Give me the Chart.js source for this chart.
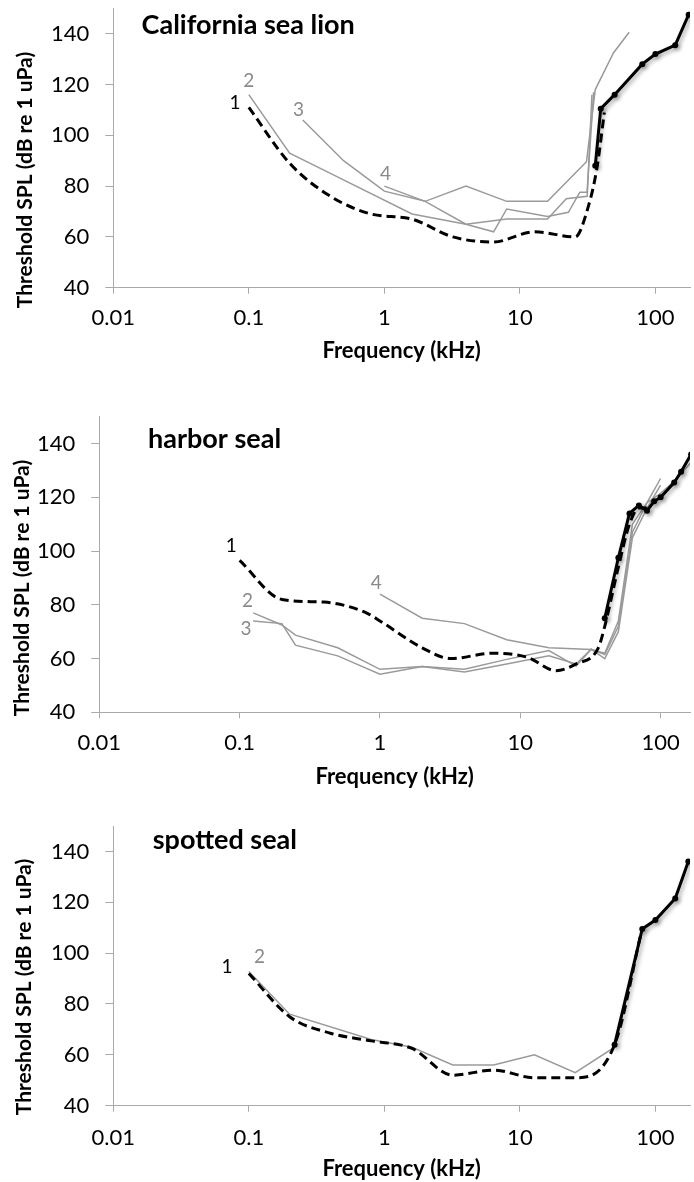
<!DOCTYPE html>
<html><head><meta charset="utf-8">
<script src="https://cdn.jsdelivr.net/npm/chart.js@4.4.1/dist/chart.umd.min.js"></script>
<style>
html,body{margin:0;padding:0;background:#fff;overflow:hidden;}
#wrap{position:relative;width:694px;height:1182px;}
.panel{position:absolute;left:0;width:694px;}
canvas{display:block;}
</style></head><body>
<div id="wrap">
<div class="panel" style="top:0px;height:370px"><canvas id="c1" width="694" height="370"></canvas></div>
<div class="panel" style="top:390px;height:400px"><canvas id="c2" width="694" height="400"></canvas></div>
<div class="panel" style="top:790px;height:392px"><canvas id="c3" width="694" height="392"></canvas></div>
</div>
<script>
// ---- axis labels ----
const xTickValues = [0.01, 0.1, 1, 10, 100];
const xTickLabels = ['0.01', '0.1', '1', '10', '100'];
const yTickValues = [40, 60, 80, 100, 120, 140];
const xAxisTitle = 'Frequency (kHz)';
const yAxisTitle = 'Threshold SPL (dB re 1 uPa)';
const panelTitles = ['California sea lion', 'harbor seal', 'spotted seal'];

// ---- California sea lion ----
const lionFreq1 = [0.1, 0.2, 0.4, 0.8, 1.6, 3.2, 6.4, 12.8, 25.6, 32, 37, 42];
const lionDb1   = [111, 89, 76, 69, 67, 60, 58, 62, 60, 72, 87, 109];
const lionFreqHigh = [36, 39.5, 50, 80, 100, 140, 176];
const lionDbHigh   = [88, 110.5, 116, 128, 132, 135.5, 147.5];
const lionFreq2 = [0.1, 0.2, 0.4, 1.6, 4, 8, 16, 22, 31.4, 34];
const lionDb2   = [116, 93, 85, 69, 65, 67, 67, 75, 76, 116];
const lionFreq3 = [0.25, 0.5, 1, 2, 4, 8, 16, 31, 36, 49, 64];
const lionDb3   = [106, 90, 78, 74, 80, 74, 74, 89.6, 118, 132.4, 140.6];
const lionFreq4 = [1, 2, 4, 6.4, 8, 16, 22.8, 27.7, 31.3, 35];
const lionDb4   = [80, 74, 65, 62, 71, 68, 69.7, 77.6, 77.6, 117];

// ---- harbor seal ----
const harborFreq1 = [0.1, 0.2, 0.4, 0.8, 1, 2, 3.2, 6.4, 11.2, 18, 25, 36, 40, 50, 60, 70, 80];
const harborDb1   = [96.5, 82, 81, 77, 74, 64, 60, 62, 60.5, 55.5, 58, 64, 72, 94, 110, 116, 116];
const harborFreqHigh = [40, 50, 60, 70, 80, 90, 100, 125, 140, 165];
const harborDbHigh   = [75, 97.5, 114, 117, 115, 118.5, 120, 125.5, 129.5, 136];
const harborFreq2 = [0.125, 0.2, 0.25, 0.5, 1, 2, 4, 8, 16, 25, 32, 40, 50, 63, 80, 100];
const harborDb2   = [77, 72.5, 68.7, 64, 56, 57, 56, 59.7, 63, 57.2, 63.5, 61.5, 72, 107, 118, 127];
const harborFreq3 = [0.125, 0.2, 0.25, 0.5, 1, 2, 4, 8, 16, 25, 32, 40, 50, 63, 80, 100];
const harborDb3   = [74, 73, 65, 61, 54.2, 57, 55, 58, 61, 58, 63.5, 60, 70, 105, 116, 124.5];
const harborFreq4 = [1, 2, 4, 8, 16, 32, 40, 50, 63, 80, 100, 125, 165];
const harborDb4   = [84, 75, 73, 67, 64, 63.4, 62, 74, 110, 118, 121.5, 126, 133];

// ---- spotted seal ----
const spottedFreq1 = [0.1, 0.2, 0.4, 0.8, 1.6, 3.2, 6.4, 12.8, 25.6, 50, 80];
const spottedDb1   = [92, 75, 68.5, 65.5, 62.5, 52, 54, 51, 51, 64, 110];
const spottedFreqHigh = [50, 80, 100, 140, 175];
const spottedDbHigh   = [64, 109.5, 113, 121.5, 136];
const spottedFreq2 = [0.1, 0.2, 0.8, 1.6, 3.2, 6.4, 12.8, 25.6, 50, 80];
const spottedDb2   = [92.8, 76, 66, 63, 56, 56, 60, 53, 63, 109];

// ---- curve number labels (text, freq, dB) ----
const lionLabelText = ['1', '2', '3', '4'];
const lionLabelFreq = [0.079, 0.1, 0.233, 1.02];
const lionLabelDb   = [112.6, 121.3, 110, 84.9];
const harborLabelText = ['1', '2', '3', '4'];
const harborLabelFreq = [0.087, 0.114, 0.111, 0.94];
const harborLabelDb   = [101.8, 81.3, 70.9, 88.1];
const spottedLabelText = ['1', '2'];
const spottedLabelFreq = [0.069, 0.12];
const spottedLabelDb   = [94.7, 98.6];

// ---- styling ----
const FONT = 'Lato, "Open Sans", sans-serif';
const AXIS = '#aaaaaa';
const GRAY = '#9a9a9a';
const LABEL_GRAY = '#8a8a8a';

const pts = (fs, ds) => fs.map((f, i) => ({x: f, y: ds[i]}));

function dashed(fs, ds) {
  return {data: pts(fs, ds), borderColor: '#000', borderWidth: 3, borderDash: [9, 5],
    pointRadius: 0, cubicInterpolationMode: 'monotone', fill: false};
}
function solid(fs, ds) {
  return {data: pts(fs, ds), borderColor: '#000', borderWidth: 3, pointRadius: 3,
    pointBackgroundColor: '#000', pointBorderWidth: 0, tension: 0, fill: false, shadow: true};
}
function gray(fs, ds) {
  return {data: pts(fs, ds), borderColor: GRAY, borderWidth: 1.5, pointRadius: 0, tension: 0, fill: false};
}

function textPlugin(spec) {
  return {
    id: 'panelText',
    beforeDatasetDraw(chart, args) {
      const ds = chart.data.datasets[args.index];
      const ctx = chart.ctx;
      ctx.save();
      if (ds.shadow) {
        ctx.shadowColor = 'rgba(0,0,0,0.35)';
        ctx.shadowBlur = 4;
        ctx.shadowOffsetX = 2;
        ctx.shadowOffsetY = 2;
      }
    },
    afterDatasetDraw(chart) { chart.ctx.restore(); },
    afterDraw(chart) {
      const {ctx, scales} = chart;
      ctx.save();
      ctx.fillStyle = '#000';
      ctx.textAlign = 'left';
      ctx.textBaseline = 'alphabetic';
      ctx.font = 'bold 27px ' + FONT;
      ctx.fillText(spec.title, spec.titleX, spec.titleY);
      ctx.save();
      ctx.translate(spec.yTitleX, spec.yTitleY);
      ctx.rotate(-Math.PI / 2);
      ctx.textAlign = 'center';
      ctx.textBaseline = 'middle';
      ctx.font = 'bold 21px ' + FONT;
      ctx.fillText(yAxisTitle, 0, 0);
      ctx.restore();
      ctx.font = '19px ' + FONT;
      ctx.textAlign = 'center';
      ctx.textBaseline = 'middle';
      spec.labelText.forEach((t, i) => {
        ctx.fillStyle = t === '1' ? '#000' : LABEL_GRAY;
        ctx.fillText(t, scales.x.getPixelForValue(spec.labelFreq[i]), scales.y.getPixelForValue(spec.labelDb[i]));
      });
      ctx.restore();
    }
  };
}

function makeChart(id, spec) {
  new Chart(document.getElementById(id), {
    type: 'line',
    data: {datasets: spec.datasets},
    plugins: [textPlugin(spec)],
    options: {
      responsive: false,
      animation: false,
      events: [],
      layout: {padding: {top: spec.padTop, left: 0, right: 0, bottom: 0}},
      plugins: {legend: {display: false}, tooltip: {enabled: false}},
      scales: {
        x: {
          type: 'logarithmic', min: 0.01, max: spec.xMax,
          afterBuildTicks: s => { s.ticks = xTickValues.map(v => ({value: v})); },
          afterFit: s => { s.height = spec.xHeight; s.paddingLeft = 0; s.paddingRight = 0; },
          ticks: {
            callback: v => xTickLabels[xTickValues.indexOf(v)],
            autoSkip: false, maxRotation: 0, minRotation: 0,
            font: {family: FONT, size: 22}, color: '#000', padding: spec.xTickPad
          },
          grid: {drawOnChartArea: false, drawTicks: true, tickLength: 6, color: AXIS},
          border: {display: true, color: AXIS, width: 1},
          title: {display: true, text: xAxisTitle, color: '#000',
            font: {family: FONT, size: 22, weight: 'bold'}, padding: {top: 0, bottom: spec.xTitlePad}}
        },
        y: {
          type: 'linear', min: 40, max: 150,
          afterBuildTicks: s => { s.ticks = yTickValues.map(v => ({value: v})); },
          afterFit: s => { s.width = spec.yWidth; s.paddingTop = 0; s.paddingBottom = 0; },
          ticks: {font: {family: FONT, size: 22}, color: '#000', padding: 16},
          grid: {drawOnChartArea: false, drawTicks: true, tickLength: 8, color: AXIS},
          border: {display: true, color: AXIS, width: 1}
        }
      }
    }
  });
}

makeChart('c1', {
  title: panelTitles[0], titleX: 141.6, titleY: 34,
  yTitleX: 25, yTitleY: 180,
  padTop: 8.3, yWidth: 113.3, xHeight: 82.3, xMax: 180, xTickPad: 11.3, xTitlePad: 6,
  labelText: lionLabelText, labelFreq: lionLabelFreq, labelDb: lionLabelDb,
  datasets: [solid(lionFreqHigh, lionDbHigh), dashed(lionFreq1, lionDb1),
    gray(lionFreq2, lionDb2), gray(lionFreq3, lionDb3), gray(lionFreq4, lionDb4)]
});
makeChart('c2', {
  title: panelTitles[1], titleX: 148, titleY: 58.3,
  yTitleX: 22, yTitleY: 198,
  padTop: 26.7, yWidth: 99.3, xHeight: 77.7, xMax: 162, xTickPad: 11.7, xTitlePad: 0,
  labelText: harborLabelText, labelFreq: harborLabelFreq, labelDb: harborLabelDb,
  datasets: [solid(harborFreqHigh, harborDbHigh), dashed(harborFreq1, harborDb1),
    gray(harborFreq2, harborDb2), gray(harborFreq3, harborDb3), gray(harborFreq4, harborDb4)]
});
makeChart('c3', {
  title: panelTitles[2], titleX: 152.7, titleY: 59.3,
  yTitleX: 24, yTitleY: 197,
  padTop: 36, yWidth: 113.3, xHeight: 76.3, xMax: 180, xTickPad: 13.3, xTitlePad: 0,
  labelText: spottedLabelText, labelFreq: spottedLabelFreq, labelDb: spottedLabelDb,
  datasets: [solid(spottedFreqHigh, spottedDbHigh), dashed(spottedFreq1, spottedDb1),
    gray(spottedFreq2, spottedDb2)]
});
</script>
</body></html>
